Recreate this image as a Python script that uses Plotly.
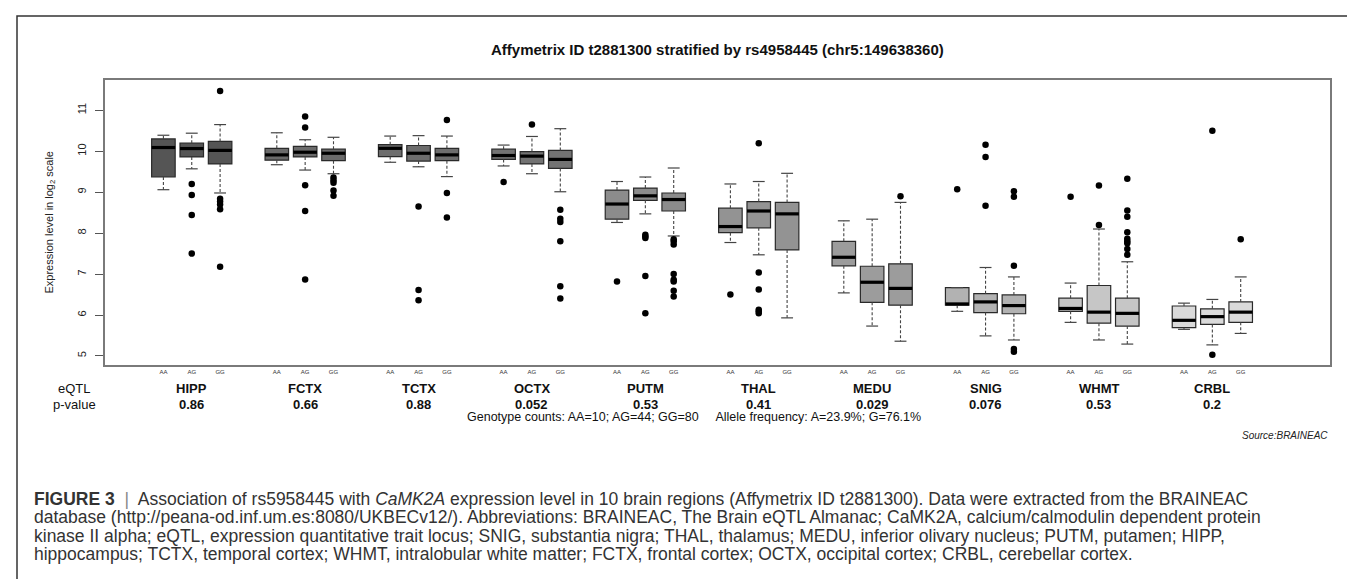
import plotly.graph_objects as go

# ---------------- data ----------------
regions = ["HIPP", "FCTX", "TCTX", "OCTX", "PUTM", "THAL", "MEDU", "SNIG", "WHMT", "CRBL"]
genotypes = ["AA", "AG", "GG"]
p_values = ["0.86", "0.66", "0.88", "0.052", "0.53", "0.41", "0.029", "0.076", "0.53", "0.2"]

whisker_low = [
    [9.06, 9.57, 8.98], [9.67, 9.54, 9.45], [9.73, 9.62, 9.38], [9.64, 9.45, 9.01],
    [8.26, 8.47, 7.93], [7.77, 7.47, 5.93], [6.54, 5.73, 5.36], [6.09, 5.49, 5.39],
    [5.82, 5.39, 5.29], [5.65, 5.27, 5.55],
]
q1 = [
    [9.37, 9.86, 9.69], [9.78, 9.86, 9.77], [9.87, 9.76, 9.77], [9.80, 9.69, 9.58],
    [8.34, 8.80, 8.54], [8.01, 8.13, 7.59], [7.20, 6.31, 6.24], [6.24, 6.06, 6.03],
    [6.09, 5.80, 5.73], [5.69, 5.77, 5.82],
]
median = [
    [10.09, 10.065, 10.02], [9.91, 9.975, 9.95], [10.07, 9.95, 9.91], [9.895, 9.88, 9.80],
    [8.71, 8.91, 8.82], [8.16, 8.54, 8.47], [7.41, 6.80, 6.65], [6.27, 6.32, 6.23],
    [6.16, 6.07, 6.04], [5.87, 5.96, 6.07],
]
q3 = [
    [10.30, 10.195, 10.24], [10.07, 10.12, 10.05], [10.16, 10.14, 10.07], [10.05, 9.99, 10.02],
    [9.05, 9.10, 8.98], [8.61, 8.77, 8.75], [7.80, 7.19, 7.25], [6.67, 6.52, 6.49],
    [6.41, 6.72, 6.41], [6.22, 6.15, 6.32],
]
whisker_high = [
    [10.39, 10.44, 10.65], [10.45, 10.28, 10.34], [10.37, 10.38, 10.37], [10.15, 10.36, 10.55],
    [9.26, 9.37, 9.59], [9.20, 9.26, 9.46], [8.30, 8.34, 8.75], [6.67, 7.16, 6.93],
    [6.78, 8.10, 7.30], [6.29, 6.38, 6.93],
]
outliers = [
    [[], [9.20, 8.93, 8.44, 7.50], [11.47, 8.84, 8.77, 8.70, 8.58, 7.18]],
    [[], [10.85, 10.58, 9.17, 8.54, 6.87], [9.36, 9.29, 9.23, 9.04, 8.91]],
    [[], [8.65, 6.61, 6.36], [10.76, 8.98, 8.38]],
    [[9.25], [10.65], [8.57, 8.35, 8.27, 7.80, 6.70, 6.40]],
    [[6.82], [7.96, 7.92, 7.88, 6.95, 6.04], [7.85, 7.80, 7.72, 7.00, 6.86, 6.82, 6.59, 6.45]],
    [[6.50], [10.195, 7.04, 6.62, 6.13, 6.09, 6.04], []],
    [[], [], [8.90]],
    [[9.07], [10.16, 9.86, 8.67], [9.02, 8.89, 7.20, 5.17, 5.10]],
    [[8.89], [9.16, 8.20], [9.33, 8.55, 8.40, 8.02, 7.86, 7.80, 7.75, 7.61, 7.47]],
    [[], [10.50, 5.03], [7.85]],
]
title_text = "Affymetrix ID t2881300 stratified by rs4958445 (chr5:149638360)"
genotype_note = "Genotype counts: AA=10; AG=44; GG=80     Allele frequency: A=23.9%; G=76.1%"
caption_lines = [
    "<b>FIGURE 3</b>  <span style='color:#888'>|</span>  Association of rs5958445 with <i>CaMK2A</i> expression level in 10 brain regions (Affymetrix ID t2881300). Data were extracted from the BRAINEAC",
    "database (http://peana-od.inf.um.es:8080/UKBECv12/). Abbreviations: BRAINEAC, The Brain eQTL Almanac; CaMK2A, calcium/calmodulin dependent protein",
    "kinase II alpha; eQTL, expression quantitative trait locus; SNIG, substantia nigra; THAL, thalamus; MEDU, inferior olivary nucleus; PUTM, putamen; HIPP,",
    "hippocampus; TCTX, temporal cortex; WHMT, intralobular white matter; FCTX, frontal cortex; OCTX, occipital cortex; CRBL, cerebellar cortex.",
]

# ---------------- styles ----------------
fills = ["#555555", "#6b6b6b", "#6d6d6d", "#737373", "#8c8c8c",
         "#939393", "#9c9c9c", "#b2b2b2", "#c6c6c6", "#dadada"]
FONT = "Liberation Sans, Arial, sans-serif"
BOX_W = 0.83
CAP_HALF = 0.21

# plot-area pixel geometry (for paper-coordinate helpers)
PX_L, PX_R, PX_T, PX_B = 97, 1322, 72, 357
def px(xp):
    return (xp - PX_L) / (PX_R - PX_L)
def py(yp):
    return (PX_B - yp) / (PX_B - PX_T)

positions = [[4 * g + i + 1 for i in range(3)] for g in range(len(regions))]

fig = go.Figure()

# boxes
for g, reg in enumerate(regions):
    fig.add_trace(go.Box(
        x=positions[g], q1=q1[g], median=median[g], q3=q3[g],
        lowerfence=q1[g], upperfence=q3[g],
        width=BOX_W, fillcolor=fills[g],
        line=dict(color="#2a2a2a", width=1.2),
        whiskerwidth=0, boxpoints=False, showlegend=False, hoverinfo="skip",
    ))

# whiskers (dashed), caps, medians
wx, wy, cx, cy, mx, my = [], [], [], [], [], []
for g in range(len(regions)):
    for i in range(3):
        p = positions[g][i]
        wx += [p, p, None, p, p, None]
        wy += [q3[g][i], whisker_high[g][i], None, q1[g][i], whisker_low[g][i], None]
        for v in (whisker_low[g][i], whisker_high[g][i]):
            cx += [p - CAP_HALF, p + CAP_HALF, None]
            cy += [v, v, None]
        mx += [p - BOX_W / 2, p + BOX_W / 2, None]
        my += [median[g][i], median[g][i], None]

fig.add_trace(go.Scatter(x=wx, y=wy, mode="lines", line=dict(color="#444", width=1.1, dash="3px,2px"),
                         showlegend=False, hoverinfo="skip"))
fig.add_trace(go.Scatter(x=cx, y=cy, mode="lines", line=dict(color="#444", width=1.2),
                         showlegend=False, hoverinfo="skip"))
fig.add_trace(go.Scatter(x=mx, y=my, mode="lines", line=dict(color="#000", width=3.2),
                         showlegend=False, hoverinfo="skip"))

ox, oy = [], []
for g in range(len(regions)):
    for i in range(3):
        for v in outliers[g][i]:
            ox.append(positions[g][i])
            oy.append(v)
fig.add_trace(go.Scatter(x=ox, y=oy, mode="markers", marker=dict(color="#000", size=6.5),
                         showlegend=False, hoverinfo="skip"))

tickvals = [p for grp in positions for p in grp]
ticktext = genotypes * len(regions)

annotations = [
    dict(text=f"<b>{title_text}</b>", x=0.5, y=py(42), xref="paper", yref="paper",
         showarrow=False, font=dict(size=15, color="#111", family=FONT), xanchor="center", yanchor="middle"),
    dict(text="Expression level in log<sub>2</sub> scale", x=px(41), y=0.5, xref="paper", yref="paper",
         textangle=-90, showarrow=False, font=dict(size=11, color="#222", family=FONT),
         xanchor="center", yanchor="middle"),
    dict(text="eQTL", x=px(66), y=py(380), xref="paper", yref="paper", showarrow=False,
         font=dict(size=13, color="#111", family=FONT), xanchor="center", yanchor="middle"),
    dict(text="p-value", x=px(66), y=py(396), xref="paper", yref="paper", showarrow=False,
         font=dict(size=13, color="#111", family=FONT), xanchor="center", yanchor="middle"),
    dict(text=genotype_note, x=px(686), y=py(409), xref="paper", yref="paper", showarrow=False,
         font=dict(size=12.5, color="#111", family=FONT), xanchor="center", yanchor="middle"),
    dict(text="<i>Source:BRAINEAC</i>", x=1.0, y=py(428), xref="paper", yref="paper", showarrow=False,
         font=dict(size=10, color="#222", family=FONT), xanchor="right", yanchor="middle"),
]
for g, reg in enumerate(regions):
    annotations.append(dict(text=f"<b>{reg}</b>", x=positions[g][1], y=py(380), xref="x", yref="paper",
                            showarrow=False, font=dict(size=13, color="#111", family=FONT),
                            xanchor="center", yanchor="middle"))
    annotations.append(dict(text=f"<b>{p_values[g]}</b>", x=positions[g][1], y=py(396), xref="x", yref="paper",
                            showarrow=False, font=dict(size=13, color="#111", family=FONT),
                            xanchor="center", yanchor="middle"))
for k, line in enumerate(caption_lines):
    annotations.append(dict(text=line, x=px(24), y=py(491 + 18.4 * k), xref="paper", yref="paper",
                            showarrow=False, font=dict(size=17.5, color="#333", family=FONT),
                            xanchor="left", yanchor="middle"))

fig.update_layout(
    width=1355, height=579,
    margin=dict(l=PX_L, r=1355 - PX_R, t=PX_T, b=579 - PX_B),
    plot_bgcolor="white", paper_bgcolor="white",
    boxmode="overlay",
    font=dict(family=FONT),
    annotations=annotations,
    shapes=[dict(type="rect", xref="paper", yref="paper", x0=px(9), x1=px(1352), y0=py(640), y1=py(8),
                 line=dict(color="#333", width=1.5), fillcolor="rgba(0,0,0,0)", layer="below")],
    xaxis=dict(range=[-1.06, 42.15], tickvals=tickvals, ticktext=ticktext,
               tickfont=dict(size=6, color="#333", family=FONT), ticks="", showgrid=False, zeroline=False,
               showline=True, mirror=True, linecolor="#7a7a7a", linewidth=2),
    yaxis=dict(range=[4.779, 11.739], tickvals=[5, 6, 7, 8, 9, 10, 11], tickangle=-90,
               tickfont=dict(size=11, color="#222", family=FONT), ticks="outside", ticklen=8,
               ticklabelstandoff=5,
               tickcolor="#555", tickwidth=1, showgrid=False, zeroline=False,
               showline=True, mirror=True, linecolor="#7a7a7a", linewidth=2),
)

fig.write_html("out.html")
